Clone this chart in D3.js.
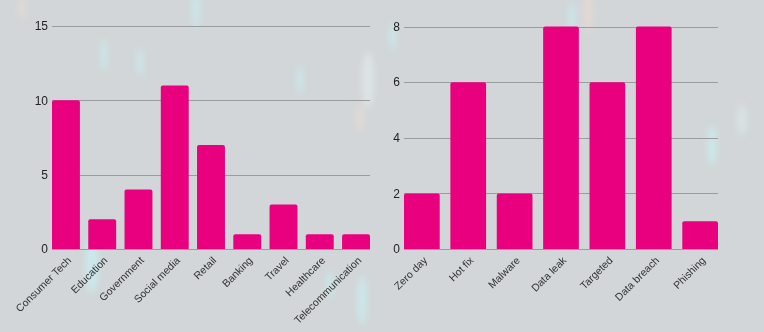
<!DOCTYPE html>
<html>
<head>
<meta charset="utf-8">
<script src="https://cdn.jsdelivr.net/npm/d3@7"></script>
<style>
  body { margin: 0; background: #d2d6d8; }
  svg { display: block; font-family: "Liberation Sans", Arial, sans-serif; }
</style>
</head>
<body>
<div id="chart"></div>
<script>
const WIDTH = 764;
const HEIGHT = 332;
const BAR_COLOR = '#e8007f';

// left chart: sectors
const sectors = ['Consumer Tech', 'Education', 'Government', 'Social media', 'Retail', 'Banking', 'Travel', 'Healthcare', 'Telecommunication'];
const sectorCounts = [10, 2, 4, 11, 7, 1, 3, 1, 1];
const sectorTicks = [0, 5, 10, 15];

// right chart: attack types
const attacks = ['Zero day', 'Hot fix', 'Malware', 'Data leak', 'Targeted', 'Data breach', 'Phishing'];
const attackCounts = [2, 6, 2, 8, 6, 8, 1];
const attackTicks = [0, 2, 4, 6, 8];

// background streaks (decoration only)
const streaks = [
    [92, 265, 7, 28, '#c6f3f6'], [104, 55, 4, 16, '#c8eef2'], [140, 62, 4, 14, '#c8eef2'],
    [196, 10, 5, 18, '#c8eef2'], [300, 80, 4, 14, '#c8eef2'], [368, 80, 6, 28, '#e6eeee'],
    [360, 118, 5, 14, '#eadcd6'], [588, 12, 5, 20, '#eedad0'], [572, 18, 4, 16, '#c8eef2'],
    [712, 145, 5, 20, '#c6f3f6'], [393, 36, 4, 14, '#c8eef2'], [362, 300, 5, 24, '#c6f3f6'],
    [22, 8, 4, 12, '#eadcd6'], [330, 285, 4, 14, '#c8eef2'], [742, 120, 5, 16, '#e0ebeb']
];

var svg = d3.select('#chart')
    .append('svg')
    .attr('width', WIDTH)
    .attr('height', HEIGHT)

var defs = svg.append('defs')
defs.append('filter')
    .attr('id', 'blur')
    .attr('x', '-100%').attr('y', '-100%').attr('width', '300%').attr('height', '300%')
    .append('feGaussianBlur')
    .attr('stdDeviation', 3)

svg.append('rect')
    .attr('width', WIDTH)
    .attr('height', HEIGHT)
    .attr('fill', '#d2d6d8')

svg.append('g')
    .attr('filter', 'url(#blur)')
    .selectAll('ellipse')
    .data(streaks)
    .enter()
    .append('ellipse')
    .attr('cx', d => d[0])
    .attr('cy', d => d[1])
    .attr('rx', d => d[2])
    .attr('ry', d => d[3])
    .attr('fill', d => d[4])
    .attr('opacity', 0.6)

function drawChart(cats, values, ticks, x0, x1, yTop, yBottom) {
    var x = d3.scaleBand()
        .domain(cats)
        .range([x0, x1])
        .paddingInner(0.23)
        .paddingOuter(0)

    var y = d3.scaleLinear()
        .domain([0, ticks[ticks.length - 1]])
        .range([yBottom, yTop])

    var g = svg.append('g')

    // gridlines
    g.selectAll('line.grid')
        .data(ticks)
        .enter()
        .append('line')
        .attr('class', 'grid')
        .attr('x1', x0)
        .attr('x2', x1)
        .attr('y1', d => Math.round(y(d)) + 0.5)
        .attr('y2', d => Math.round(y(d)) + 0.5)
        .attr('stroke', '#9a9c9e')
        .attr('stroke-width', 1)

    // tick labels
    g.selectAll('text.tick')
        .data(ticks)
        .enter()
        .append('text')
        .attr('class', 'tick')
        .text(d => d)
        .attr('x', x0 - 4)
        .attr('y', d => y(d))
        .attr('dy', '0.35em')
        .attr('font-size', 12)
        .attr('fill', '#222')
        .attr('text-anchor', 'end')

    // bars
    g.selectAll('path.bar')
        .data(values)
        .enter()
        .append('path')
        .attr('class', 'bar')
        .attr('d', (d, i) => {
            var bx = x(cats[i]), bw = x.bandwidth(), by = y(d), bb = y(0), r = 2;
            return 'M' + bx + ',' + bb + 'V' + (by + r) + 'Q' + bx + ',' + by + ' ' + (bx + r) + ',' + by +
                'H' + (bx + bw - r) + 'Q' + (bx + bw) + ',' + by + ' ' + (bx + bw) + ',' + (by + r) + 'V' + bb + 'Z';
        })
        .attr('fill', BAR_COLOR)

    // category labels
    g.selectAll('text.cat')
        .data(cats)
        .enter()
        .append('text')
        .attr('class', 'cat')
        .text(d => d)
        .attr('transform', d => 'translate(' + (x(d) + x.bandwidth() / 2 + 6) + ',' + (yBottom + 12) + ') rotate(-45)')
        .attr('font-size', 10.5)
        .attr('fill', '#333')
        .attr('text-anchor', 'end')
}

drawChart(sectors, sectorCounts, sectorTicks, 52, 370, 26, 249)
drawChart(attacks, attackCounts, attackTicks, 404, 718, 26.5, 249)
</script>
</body>
</html>
